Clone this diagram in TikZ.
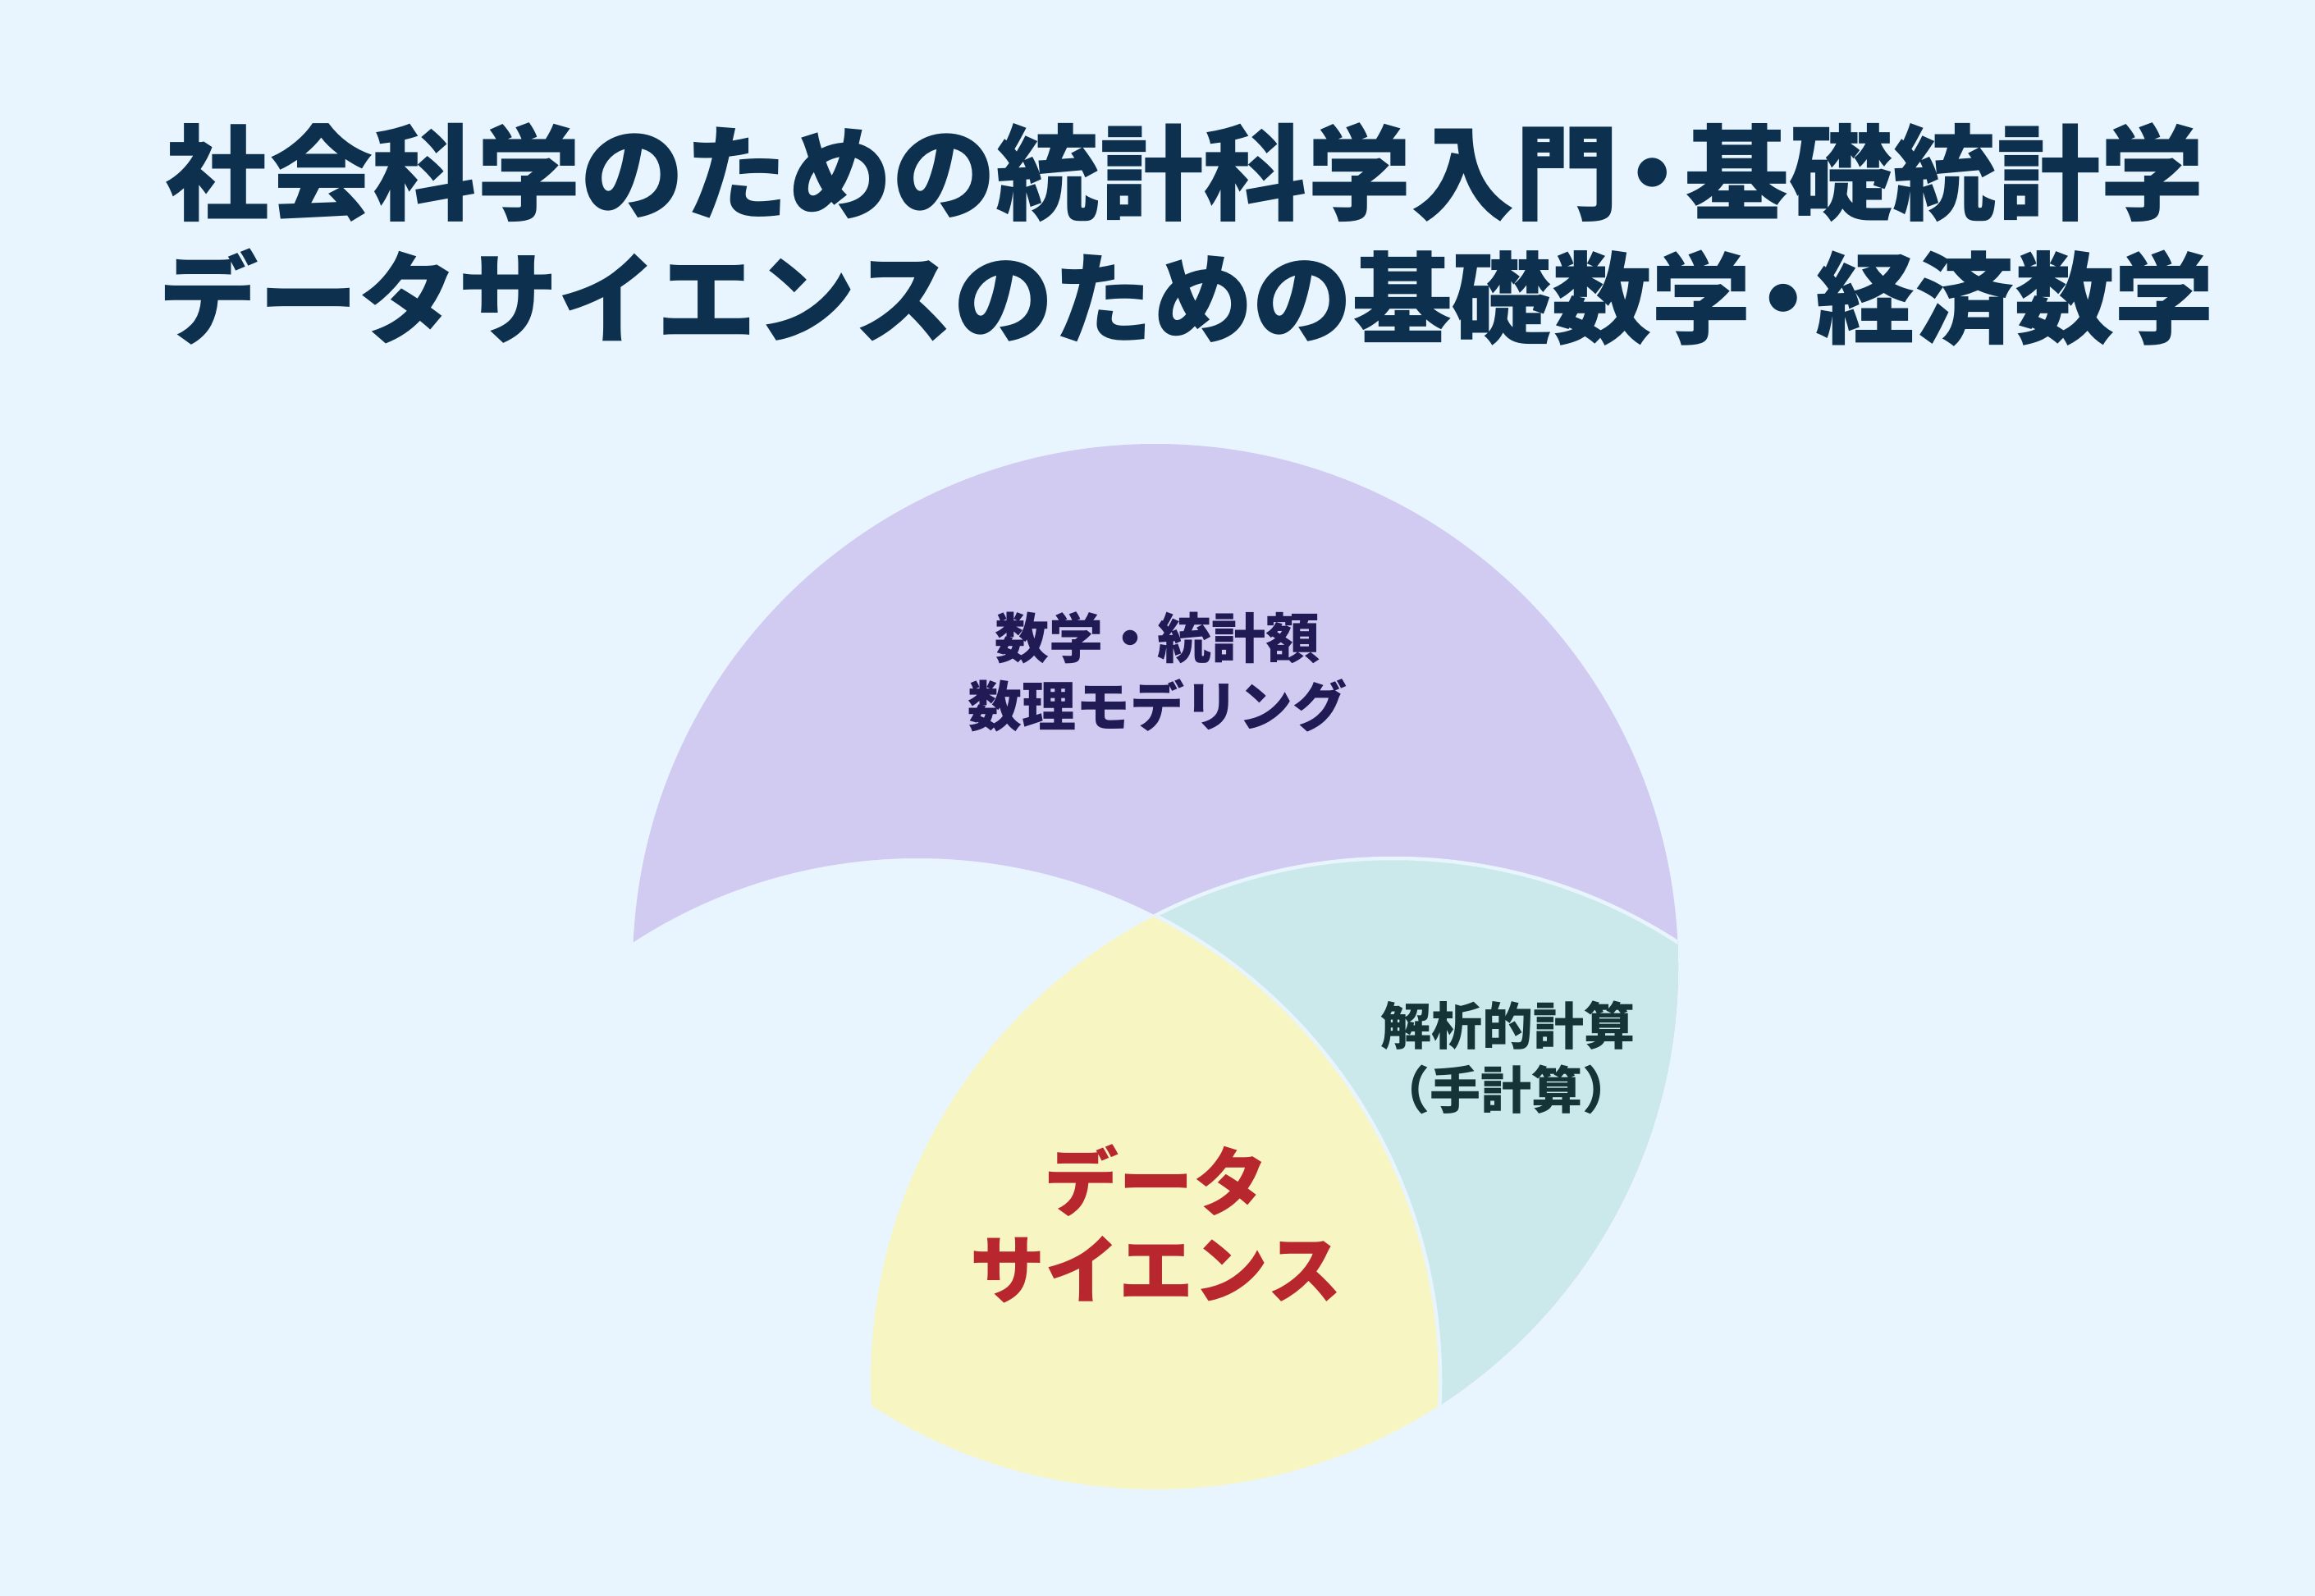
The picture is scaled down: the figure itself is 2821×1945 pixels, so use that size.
\documentclass[tikz,border=0pt]{standalone}
\usepackage{fontspec}
\newfontfamily\jp{Noto Sans CJK JP}
\definecolor{bgc}{HTML}{E8F5FE}
\definecolor{purpc}{HTML}{D2CBF1}
\definecolor{tealc}{HTML}{CBE9EB}
\definecolor{yelc}{HTML}{F7F6C2}
\definecolor{titlec}{HTML}{0C304D}
\definecolor{ptext}{HTML}{211B55}
\definecolor{ttext}{HTML}{143438}
\definecolor{rtext}{HTML}{B9272E}
\newcommand{\tdot}{\hspace{-0.18em}・\hspace{-0.18em}}
\tikzset{
  titleone/.style={inner sep=0pt, text=titlec, font=\jp\bfseries\fontsize{126.5}{126.5}\selectfont},
  titletwo/.style={inner sep=0pt, text=titlec, font=\jp\bfseries\fontsize{121.5}{121.5}\selectfont},
  purptext/.style={inner sep=0pt, text=ptext, font=\jp\bfseries\fontsize{66}{66}\selectfont},
  tealtext/.style={inner sep=0pt, text=ttext, font=\jp\bfseries\fontsize{62}{62}\selectfont},
  redtext/.style={inner sep=0pt, text=rtext, font=\jp\bfseries\fontsize{91}{91}\selectfont},
  gap/.style={draw=bgc, line width=4.5pt}
}
\begin{document}
\begin{tikzpicture}[x=1pt,y=-1pt]
\useasboundingbox (0,0) rectangle (2821,1945);
\fill[bgc] (0,0) rectangle (2821,1945);
\def\R{637}
\coordinate (A) at (1408,1178);
\coordinate (B) at (1118,1683);
\coordinate (C) at (1698,1683);
% regions outside B: purple and teal
\begin{scope}[even odd rule]
  \clip (0,0) rectangle (2821,1945) (B) circle[radius=\R];
  \fill[purpc] (A) circle[radius=\R];
  \clip (A) circle[radius=\R];
  \fill[tealc] (C) circle[radius=\R];
\end{scope}
% centre region: yellow
\begin{scope}
  \clip (A) circle[radius=\R];
  \clip (B) circle[radius=\R];
  \fill[yelc] (C) circle[radius=\R];
\end{scope}
% gaps
\begin{scope}
  \clip (A) circle[radius=\R];
  \clip (C) circle[radius=\R];
  \draw[gap] (B) circle[radius=\R];
\end{scope}
\begin{scope}[even odd rule]
  \clip (A) circle[radius=\R];
  \clip (0,0) rectangle (2821,1945) (B) circle[radius=\R];
  \draw[gap] (C) circle[radius=\R];
\end{scope}
% texts
\node[titleone] (t1) at (1444,210) {社会科学のための統計科学入門\tdot 基礎統計学};
\node[titletwo] (t2) at (1446,363) {データサイエンスのための基礎数学\tdot 経済数学};
\node[purptext] (p1) at (1410,777) {数学・統計額};
\node[purptext] (p2) at (1410,860) {数理モデリング};
\node[tealtext] (s1) at (1837,1250) {解析的計算};
\node[tealtext] (s2) at (1835,1328) {（手計算）};
\node[redtext] (d1) at (1409,1439) {データ};
\node[redtext] (d2) at (1409,1547) {サイエンス};
\end{tikzpicture}
\end{document}
